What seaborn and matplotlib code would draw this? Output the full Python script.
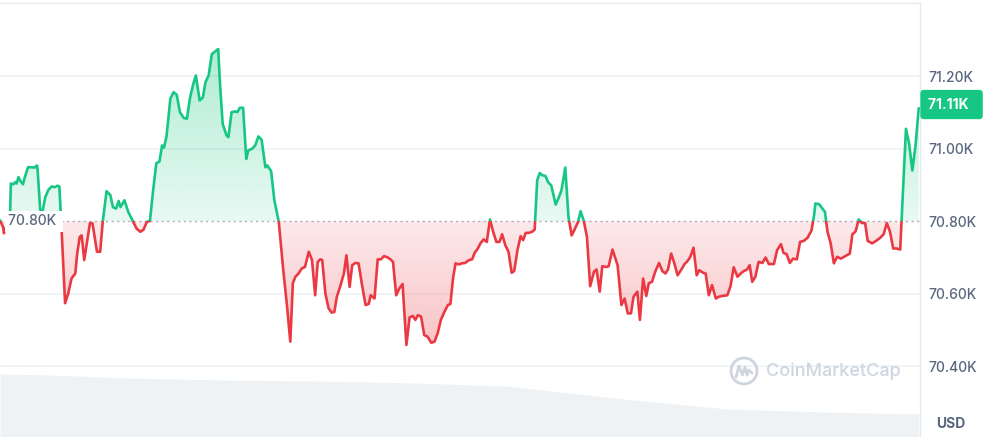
import numpy as np
import pandas as pd
import matplotlib
matplotlib.use("Agg")
import matplotlib.pyplot as plt
import seaborn as sns
from matplotlib.path import Path
from matplotlib.patches import PathPatch, Rectangle, Ellipse
from matplotlib.colors import to_rgb
from matplotlib.transforms import blended_transform_factory
from matplotlib.lines import Line2D

# minutes since the start of the 24h window
minutes = [
    0, 5, 6, 11, 16, 17, 21, 24, 26, 29,
    32, 36, 39, 44, 50, 54, 58, 59, 63, 67,
    71, 76, 81, 86, 90, 93, 96, 102, 107, 112,
    118, 121, 125, 128, 132, 136, 141, 145, 152, 157,
    161, 167, 173, 177, 182, 186, 189, 195, 201, 209,
    214, 220, 225, 230, 235, 240, 245, 250, 254, 257,
    261, 267, 272, 277, 282, 288, 293, 298, 303, 307,
    313, 318, 322, 327, 332, 337, 342, 345, 349, 355,
    358, 363, 369, 372, 376, 381, 386, 389, 395, 400,
    405, 410, 416, 419, 425, 430, 437, 444, 450, 455,
    459, 463, 468, 473, 478, 484, 489, 494, 498, 502,
    505, 510, 515, 520, 524, 528, 533, 539, 543, 548,
    552, 557, 562, 567, 573, 578, 581, 587, 592, 597,
    602, 608, 612, 616, 621, 626, 631, 637, 642, 647,
    651, 655, 660, 665, 670, 676, 681, 686, 691, 696,
    702, 706, 710, 714, 719, 724, 729, 735, 740, 744,
    749, 753, 758, 763, 768, 773, 778, 783, 787, 792,
    797, 802, 806, 811, 816, 820, 824, 829, 834, 838,
    842, 846, 850, 855, 859, 864, 871, 875, 880, 886,
    891, 896, 900, 906, 910, 915, 920, 925, 931, 935,
    940, 944, 951, 954, 960, 965, 968, 974, 979, 984,
    989, 993, 999, 1003, 1008, 1013, 1017, 1022, 1027, 1033,
    1038, 1043, 1047, 1052, 1057, 1062, 1068, 1073, 1078, 1082,
    1087, 1092, 1096, 1102, 1106, 1111, 1116, 1122, 1127, 1132,
    1140, 1145, 1150, 1156, 1161, 1166, 1171, 1175, 1179, 1184,
    1189, 1195, 1200, 1205, 1213, 1218, 1224, 1228, 1233, 1238,
    1243, 1249, 1254, 1260, 1266, 1272, 1276, 1278, 1284, 1289,
    1293, 1297, 1302, 1307, 1312, 1318, 1325, 1332, 1336, 1341,
    1346, 1351, 1356, 1360, 1367, 1373, 1378, 1385, 1390, 1395,
    1400, 1405, 1411, 1413, 1420, 1425, 1430, 1435, 1440,
]

# price in USD
price = [
    70803, 70783, 70767, 70789, 70830, 70904, 70902, 70908, 70904, 70922,
    70911, 70902, 70922, 70949, 70949, 70948, 70954, 70940, 70832, 70830,
    70867, 70887, 70896, 70894, 70898, 70896, 70798, 70574, 70601, 70642,
    70656, 70711, 70757, 70761, 70693, 70739, 70795, 70794, 70716, 70716,
    70798, 70883, 70872, 70839, 70835, 70856, 70839, 70858, 70826, 70798,
    70780, 70771, 70777, 70798, 70801, 70885, 70960, 70965, 71009, 71003,
    71034, 71138, 71156, 71149, 71101, 71085, 71083, 71142, 71179, 71202,
    71133, 71142, 71183, 71202, 71261, 71268, 71275, 71174, 71069, 71037,
    71032, 71101, 71103, 71101, 71113, 71113, 70972, 70995, 71000, 71009,
    71034, 71025, 70949, 70954, 70938, 70858, 70798, 70665, 70564, 70468,
    70629, 70647, 70656, 70670, 70674, 70716, 70693, 70596, 70688, 70695,
    70693, 70601, 70560, 70548, 70550, 70592, 70619, 70656, 70706, 70619,
    70679, 70685, 70684, 70629, 70569, 70572, 70596, 70587, 70695, 70695,
    70704, 70700, 70695, 70688, 70596, 70615, 70627, 70459, 70535, 70539,
    70528, 70541, 70537, 70486, 70482, 70465, 70468, 70491, 70528, 70548,
    70569, 70572, 70642, 70684, 70681, 70684, 70685, 70693, 70695, 70713,
    70725, 70739, 70750, 70743, 70805, 70771, 70743, 70743, 70764, 70734,
    70716, 70658, 70663, 70720, 70759, 70748, 70768, 70768, 70771, 70777,
    70913, 70933, 70927, 70925, 70908, 70899, 70846, 70862, 70885, 70948,
    70812, 70761, 70775, 70798, 70828, 70801, 70757, 70621, 70661, 70667,
    70606, 70676, 70674, 70676, 70722, 70695, 70679, 70569, 70587, 70546,
    70546, 70592, 70606, 70528, 70642, 70594, 70629, 70633, 70661, 70685,
    70663, 70656, 70667, 70711, 70684, 70651, 70667, 70682, 70691, 70702,
    70727, 70651, 70665, 70658, 70656, 70596, 70624, 70587, 70592, 70594,
    70596, 70621, 70673, 70647, 70656, 70663, 70667, 70679, 70633, 70647,
    70688, 70685, 70700, 70682, 70682, 70720, 70737, 70713, 70709, 70685,
    70697, 70695, 70743, 70746, 70755, 70775, 70817, 70849, 70847, 70835,
    70826, 70771, 70739, 70684, 70702, 70697, 70704, 70711, 70764, 70772,
    70805, 70795, 70795, 70746, 70739, 70746, 70752, 70764, 70795, 70771,
    70725, 70725, 70722, 70798, 71055, 71014, 70940, 71009, 71112,
]

# rough volume profile (relative units)
vol_minutes = [0, 80, 199, 350, 496, 650, 794, 864, 993, 1142, 1291, 1440]
volume = [63, 62, 59, 57, 56, 54, 51, 46, 37, 28, 25, 23]

open_price = 70800
tick_values = [70400, 70600, 70800, 71000, 71200]

GREEN = "#16c784"
RED = "#ea3943"
GREY_TXT = "#58667e"
GRID = "#eff2f5"

sns.set_theme(style="white")
plt.rcParams["font.family"] = ["Inter", "DejaVu Sans"]

df = pd.DataFrame({"minute": minutes, "price": price})
x = df["minute"].to_numpy(dtype=float)
y = df["price"].to_numpy(dtype=float)

fig = plt.figure(figsize=(9.87, 4.37), dpi=100)
fig.patch.set_facecolor("white")
W, H = 987, 437
ax = fig.add_axes([0, 0, 920 / W, 434 / H])
ax.set_facecolor("none")

xlim = (0, 1442)
ylim = (70205, 71402)

# grid lines
for v in tick_values:
    if v == open_price:
        continue
    ax.axhline(v, color=GRID, lw=1.2, zorder=0)
ax.axhline(open_price, color="#a6b0c3", lw=1, ls=(0, (1.5, 2.5)), zorder=0.5)


def gradient_fill(ax, x, y, base, color, above):
    if above:
        coll = ax.fill_between(x, y, base, where=y >= base, interpolate=True,
                               facecolor="none", edgecolor="none")
        lo, hi = base, y.max()
        alpha = np.linspace(0.10, 0.34, 256)
    else:
        coll = ax.fill_between(x, y, base, where=y <= base, interpolate=True,
                               facecolor="none", edgecolor="none")
        lo, hi = y.min(), base
        alpha = np.linspace(0.30, 0.11, 256)
    rgba = np.zeros((256, 1, 4))
    rgba[..., :3] = to_rgb(color)
    rgba[:, 0, 3] = alpha
    im = ax.imshow(rgba, extent=[x.min(), x.max(), lo, hi], origin="lower",
                   aspect="auto", zorder=1, interpolation="bilinear")
    path = Path.make_compound_path(*coll.get_paths())
    patch = PathPatch(path, transform=ax.transData, facecolor="none", edgecolor="none")
    ax.add_patch(patch)
    im.set_clip_path(patch)


gradient_fill(ax, x, y, open_price, GREEN, True)
gradient_fill(ax, x, y, open_price, RED, False)

# price line: green above the open, red below
sns.lineplot(data=df, x="minute", y="price", ax=ax, color=GREEN, lw=1.9,
             estimator=None, zorder=3)
ax.lines[-1].set_clip_path(Rectangle((-100, open_price), 2000, 5000, transform=ax.transData))
sns.lineplot(data=df, x="minute", y="price", ax=ax, color=RED, lw=1.9,
             estimator=None, zorder=3)
ax.lines[-1].set_clip_path(Rectangle((-100, open_price - 5000), 2000, 5000, transform=ax.transData))

ax.set_xlim(*xlim)
ax.set_ylim(*ylim)
ax.set_xlabel("")
ax.set_ylabel("")
ax.set_xticks([])
ax.yaxis.tick_right()
ax.set_yticks(tick_values)
ax.set_yticklabels([f"{v / 1000:.2f}K" for v in tick_values])
ax.tick_params(axis="y", length=0, pad=5.8, labelsize=10, labelcolor=GREY_TXT)
for lab in ax.get_yticklabels():
    lab.set_fontweight("medium")
for side in ["left", "bottom"]:
    ax.spines[side].set_visible(False)
for side in ["top", "right"]:
    ax.spines[side].set_color("#e6e9ee")
    ax.spines[side].set_linewidth(1)

# open price label on the left
ax.text(8 / 920, open_price, f"{open_price / 1000:.2f}K ",
        transform=blended_transform_factory(ax.transAxes, ax.transData),
        ha="left", va="center", fontsize=10, color=GREY_TXT, fontweight="medium",
        bbox=dict(boxstyle="square,pad=0.25", fc="white", ec="none"), zorder=5)

# last price tag
last = price[-1]
ax.text(928 / 920, last + 10, f"{last / 1000:.2f}K  ",
        transform=blended_transform_factory(ax.transAxes, ax.transData),
        ha="left", va="center", fontsize=10, color="white", fontweight="bold",
        bbox=dict(boxstyle="round,pad=0.55,rounding_size=0.25", fc=GREEN, ec="none"),
        clip_on=False, zorder=6)

# volume area
axv = fig.add_axes([0, 0, 920 / W, 100 / H])
axv.fill_between(vol_minutes, volume, 0, color="#eff2f5", lw=0)
axv.set_xlim(*xlim)
axv.set_ylim(0, 100)
axv.axis("off")

fig.text(951 / W, 1 - 424 / H, "USD", ha="center", va="center", fontsize=10,
         fontweight="bold", color=GREY_TXT)

# watermark
wm = "#cfd5df"
cx, cy, r = 744, 371, 13
fig.patches.append(Ellipse((cx / W, 1 - cy / H), 2 * r / W, 2 * r / H,
                           transform=fig.transFigure, fill=False, ec=wm, lw=2))
mx = [cx - 8, cx - 5, cx - 1.5, cx + 1, cx + 3, cx + 5, cx + 8]
my = [cy + 6, cy - 5, cy + 4, cy - 4, cy + 4, cy - 1, cy + 2]
fig.lines.append(Line2D([v / W for v in mx], [1 - v / H for v in my],
                        transform=fig.transFigure, color=wm, lw=2))
fig.text(766 / W, 1 - cy / H, "CoinMarketCap", ha="left", va="center",
         fontsize=13, color=wm, fontweight="medium")

fig.savefig("out.png", dpi=100, facecolor="white")
